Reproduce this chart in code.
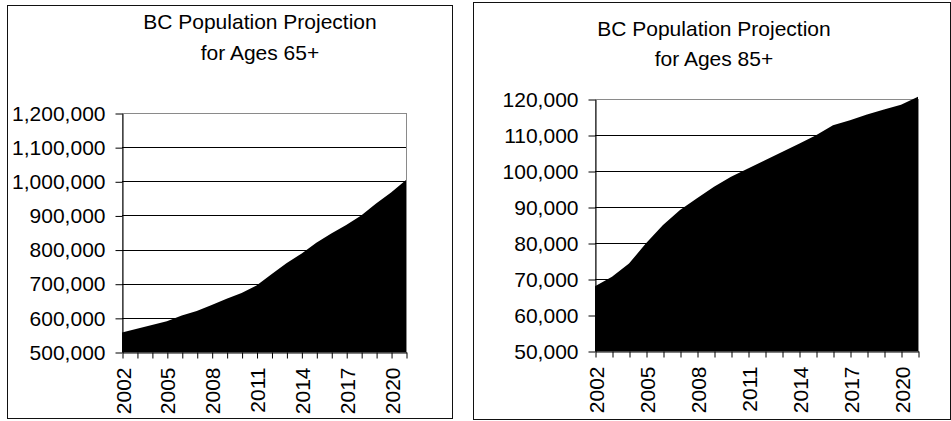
<!DOCTYPE html>
<html>
<head>
<meta charset="utf-8">
<script src="https://cdn.jsdelivr.net/npm/d3@7"></script>
<style>
  body { margin: 0; background: #fff; }
  svg { font-family: 'Liberation Sans', Arial, sans-serif; }
</style>
</head>
<body>
<script>
// DATA
const years = [
  2002, 2003, 2004, 2005, 2006, 2007, 2008, 2009, 2010, 2011,
  2012, 2013, 2014, 2015, 2016, 2017, 2018, 2019, 2020, 2021
];
const labelYears = [2002, 2005, 2008, 2011, 2014, 2017, 2020];

const pop65 = [
  557000, 568000, 579000, 590000, 607000, 620000, 638000, 656000, 673000, 695000,
  728000, 760000, 788000, 820000, 847000, 872000, 900000, 935000, 967000, 1004000
];
const pop85 = [
  68000, 70600, 74300, 79900, 85000, 89200, 92400, 95600, 98400, 100700,
  103000, 105300, 107600, 109900, 112700, 114100, 115700, 117100, 118400, 120600
];

const ticks65 = [500000, 600000, 700000, 800000, 900000, 1000000, 1100000, 1200000];
const ticks85 = [50000, 60000, 70000, 80000, 90000, 100000, 110000, 120000];

const titles65 = ['BC Population Projection', 'for Ages 65+'];
const titles85 = ['BC Population Projection', 'for Ages 85+'];

const width = 951;
const height = 421;
const fontSize = 21;

const svg = d3
  .select('body')
  .append('svg')
  .attr('width', width)
  .attr('height', height);

function drawChart(o) {
  const g = svg.append('g');

  // FRAME
  g.append('rect')
    .attr('x', o.frame[0] + 0.5)
    .attr('y', o.frame[1] + 0.5)
    .attr('width', o.frame[2])
    .attr('height', o.frame[3])
    .attr('fill', 'white')
    .attr('stroke', '#111')
    .attr('stroke-width', 1);

  // TITLE
  g.selectAll('text.title')
    .data(o.title)
    .enter()
    .append('text')
    .attr('class', 'title')
    .attr('x', o.titleX)
    .attr('y', (d, i) => o.titleY[i])
    .attr('text-anchor', 'middle')
    .attr('font-size', fontSize)
    .attr('fill', '#000')
    .text(d => d);

  const xScale = d3
    .scalePoint()
    .domain(years)
    .range([o.left, o.right]);

  const yScale = d3
    .scaleLinear()
    .domain([o.ticks[0], o.ticks[o.ticks.length - 1]])
    .range([o.bottom, o.top]);

  // PLOT BORDER
  g.append('rect')
    .attr('x', o.left + 0.5)
    .attr('y', Math.round(yScale(o.ticks[o.ticks.length - 1])) + 0.5)
    .attr('width', o.right - o.left)
    .attr('height', o.bottom - o.top)
    .attr('fill', 'none')
    .attr('stroke', '#8a8a8a');

  // GRID
  g.selectAll('line.grid')
    .data(o.ticks.slice(1, -1))
    .enter()
    .append('line')
    .attr('class', 'grid')
    .attr('x1', o.left)
    .attr('x2', o.right)
    .attr('y1', d => Math.round(yScale(d)) + 0.5)
    .attr('y2', d => Math.round(yScale(d)) + 0.5)
    .attr('stroke', '#000');

  // AREA
  const area = d3
    .area()
    .x((d, i) => xScale(years[i]))
    .y0(yScale(o.ticks[0]))
    .y1(d => yScale(d));

  g.append('path')
    .datum(o.values)
    .attr('d', area)
    .attr('fill', '#000');

  // Y-AXIS
  const yAxis = d3
    .axisLeft(yScale)
    .tickValues(o.ticks)
    .tickFormat(d3.format(','))
    .tickSize(7)
    .tickSizeOuter(0)
    .tickPadding(10);

  const ya = g
    .append('g')
    .attr('transform', `translate(${o.left + 0.5}, 0.5)`)
    .call(yAxis)
    .attr('font-family', null)
    .attr('font-size', fontSize);
  ya.selectAll('path, line').attr('stroke', '#000');
  ya.selectAll('text').attr('fill', '#000');

  // X-AXIS
  const xAxis = d3
    .axisBottom(xScale)
    .tickSize(6)
    .tickSizeOuter(0)
    .tickFormat(d => (labelYears.includes(d) ? d : ''));

  const xa = g
    .append('g')
    .attr('transform', `translate(0.5, ${o.bottom + 0.5})`)
    .call(xAxis)
    .attr('font-family', null)
    .attr('font-size', fontSize);
  xa.selectAll('path, line').attr('stroke', '#000');
  xa.selectAll('text')
    .attr('fill', '#000')
    .attr('transform', 'rotate(-90)')
    .attr('text-anchor', 'end')
    .attr('x', -15)
    .attr('y', 0)
    .attr('dy', '0.36em');
}

drawChart({
  frame: [7, 5, 445, 413],
  title: titles65,
  titleX: 260,
  titleY: [29, 60],
  left: 122,
  right: 406,
  top: 113,
  bottom: 352,
  ticks: ticks65,
  values: pop65
});

drawChart({
  frame: [473, 2, 477, 417],
  title: titles85,
  titleX: 714,
  titleY: [36, 66],
  left: 595,
  right: 918,
  top: 99,
  bottom: 351,
  ticks: ticks85,
  values: pop85
});
</script>
</body>
</html>
